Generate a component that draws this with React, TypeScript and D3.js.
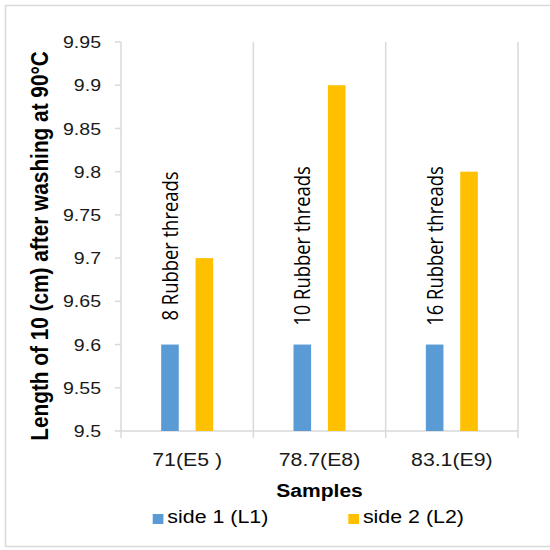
import React from "react";
import * as d3 from "d3";

// Chart data
const categories = ["71(E5 )", "78.7(E8)", "83.1(E9)"];
const seriesNames = ["side 1 (L1)", "side 2 (L2)"];
const side1 = [9.6, 9.6, 9.6];
const side2 = [9.7, 9.9, 9.8];
const barNotes = ["8 Rubber threads", "10 Rubber threads", "16 Rubber threads"];
const yTicks = [9.5, 9.55, 9.6, 9.65, 9.7, 9.75, 9.8, 9.85, 9.9, 9.95];
const seriesColors = ["#5B9BD5", "#FFC000"];

const W = 550;
const H = 550;
const plot = { left: 121, right: 518, top: 42, bottom: 431 };
const GRID = "#D9D9D9";
const SX = 1.15; // horizontal text stretch
const SANS = "'Liberation Sans', Arial, sans-serif";

export default function App() {
  const x = d3
    .scaleBand<string>()
    .domain(categories)
    .range([plot.left, plot.right])
    .padding(0);
  const cw = x.bandwidth();
  const inner = d3
    .scaleBand<string>()
    .domain(seriesNames)
    .range([cw / 2 - 26, cw / 2 + 26])
    .paddingInner(0.488)
    .paddingOuter(0);
  const bw = inner.bandwidth();
  const y = d3.scaleLinear().domain([9.5, 9.95]).range([plot.bottom, plot.top]);

  const values = [side1, side2];
  const boundaries = [...categories.map((c) => x(c) as number), plot.right];
  const fmt = (v: number) => String(+v.toFixed(2));

  return (
    <svg
      width={W}
      height={H}
      style={{ position: "absolute", left: 0, top: 0, background: "#fff" }}
    >
      <rect x={0} y={0} width={W} height={H} fill="#fff" />
      {/* chart frame */}
      <rect
        x={5.5}
        y={5.5}
        width={W}
        height={541}
        fill="none"
        stroke={GRID}
        strokeWidth={1.5}
      />

      {/* vertical gridlines at category boundaries */}
      {boundaries.map((bx, i) => (
        <line
          key={"g" + i}
          x1={bx}
          x2={bx}
          y1={plot.top}
          y2={plot.bottom + 7}
          stroke={GRID}
          strokeWidth={1.5}
        />
      ))}
      {/* bottom axis line */}
      <line
        x1={plot.left}
        x2={plot.right}
        y1={plot.bottom}
        y2={plot.bottom}
        stroke={GRID}
        strokeWidth={1.5}
      />
      {/* y ticks */}
      {yTicks.map((t) => (
        <g key={"t" + t}>
          <line
            x1={plot.left - 6}
            x2={plot.left}
            y1={y(t)}
            y2={y(t)}
            stroke={GRID}
            strokeWidth={1.5}
          />
          <text
            transform={`translate(101,${y(t) + 6.1}) scale(${SX},1)`}
            textAnchor="end"
            fontFamily={SANS}
            fontSize={17}
            fill="#1a1a1a"
          >
            {fmt(t)}
          </text>
        </g>
      ))}

      {/* bars */}
      {categories.map((c, ci) =>
        seriesNames.map((s, si) => {
          const v = values[si][ci];
          const bx = (x(c) as number) + (inner(s) as number);
          return (
            <rect
              key={c + s}
              x={bx}
              y={y(v)}
              width={bw}
              height={y(9.5) - y(v)}
              fill={seriesColors[si]}
            />
          );
        })
      )}

      {/* notes above the bars */}
      {categories.map((c, ci) => {
        const bx = (x(c) as number) + (inner(seriesNames[0]) as number) + bw / 2 + 8;
        return (
          <text
            key={"n" + c}
            transform={`translate(${bx},246) scale(${SX},1) rotate(-90)`}
            textAnchor="middle"
            fontFamily="'Open Sans', sans-serif"
            fontSize={18.4}
            fill="#000"
          >
            {barNotes[ci]}
          </text>
        );
      })}

      {/* category labels */}
      {categories.map((c) => (
        <text
          key={"c" + c}
          transform={`translate(${(x(c) as number) + cw / 2},466) scale(${SX},1)`}
          textAnchor="middle"
          fontFamily={SANS}
          fontSize={18.5}
          fill="#1a1a1a"
        >
          {c}
        </text>
      ))}

      {/* axis titles */}
      <text
        transform={`translate(${(plot.left + plot.right) / 2},496.5) scale(${SX},1)`}
        textAnchor="middle"
        fontFamily={SANS}
        fontSize={18.3}
        fontWeight="bold"
        fill="#000"
      >
        Samples
      </text>
      <text
        transform={`translate(48,246) scale(${SX},1) rotate(-90)`}
        textAnchor="middle"
        fontFamily={SANS}
        fontSize={20.8}
        fontWeight="bold"
        fill="#000"
      >
        Length of 10 (cm) after washing at 90°C
      </text>

      {/* legend */}
      {seriesNames.map((s, si) => {
        const lx = [152.7, 348.3][si];
        return (
          <g key={"l" + s}>
            <rect x={lx} y={514} width={10.7} height={10} fill={seriesColors[si]} />
            <text
              transform={`translate(${lx + 14.6},523) scale(${SX},1)`}
              fontFamily={SANS}
              fontSize={18.6}
              fill="#000"
            >
              {s}
            </text>
          </g>
        );
      })}
    </svg>
  );
}
